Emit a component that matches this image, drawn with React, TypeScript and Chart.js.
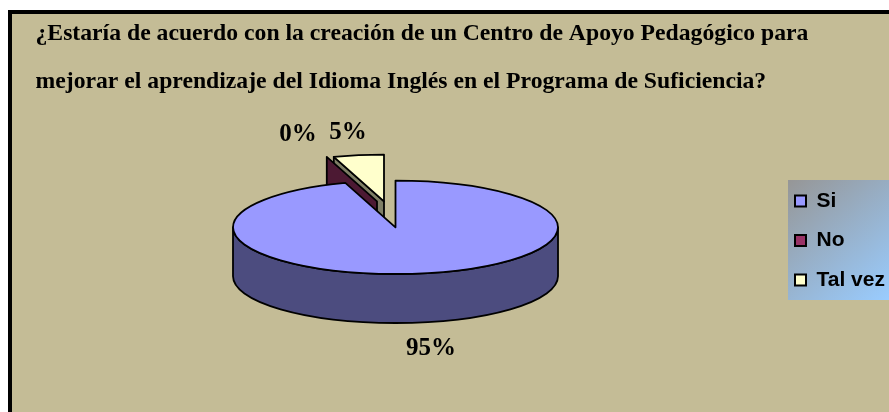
import React, { useEffect, useRef } from "react";
import { Chart, registerables } from "chart.js";

Chart.register(...registerables);

const categories = ["Si", "No", "Tal vez"];
const percentages = [95, 0, 5];
const titleLines = [
  "¿Estaría de acuerdo con la creación de un Centro de Apoyo Pedagógico para",
  "mejorar el aprendizaje del Idioma Inglés en el Programa de Suficiencia?",
];
const topColors = ["#9999ff", "#993366", "#ffffcc"];
const wallColors = ["#4c4c7f", "#4c1933", "#7f7f66"];

const CX = 395.5, CY = 227.3, RX = 162.5, RY = 46.7, DEPTH = 49;
const SQUASH = RY / RX;
// exploded displacement of each slice on the page
const shiftX = [0, -18.5, -11.5];
const shiftY = [0, -26, -26];
const labelX = [431, 298, 348];
const labelY = [349, 134.5, 133];

const piePlugin = {
  id: "pie3d",
  beforeDraw(chart: any) {
    const { ctx, width, height } = chart;
    ctx.save();
    ctx.fillStyle = "#ffffff";
    ctx.fillRect(0, 0, width, height);
    ctx.fillStyle = "#c4bc96";
    ctx.fillRect(8, 10, width - 8, height - 10);
    ctx.fillStyle = "#000000";
    ctx.fillRect(8, 10, 4, height - 10);
    ctx.fillRect(8, 10, width - 8, 4);
    const g = ctx.createLinearGradient(788, 180, 889, 300);
    g.addColorStop(0, "#969696");
    g.addColorStop(1, "#99ccff");
    ctx.fillStyle = g;
    ctx.fillRect(788, 180, 101, 120);
    ctx.restore();
  },
  afterLayout(chart: any) {
    const lg = chart.legend;
    const pad = lg.options.labels.padding;
    lg.left = 795 - pad;
    lg.right = 889;
    lg.top = 190.5 - pad;
    lg.bottom = 412;
  },
  beforeDatasetDraw(chart: any, args: any) {
    const { ctx } = chart;
    const arcs = args.meta.data;
    const walls = [2, 1, 0];
    ctx.save();
    ctx.lineWidth = 1.8;
    ctx.strokeStyle = "#000";
    ctx.lineJoin = "round";
    // side walls, back to front
    for (const i of walls) {
      const el = arcs[i];
      const cx = CX + shiftX[i], cy = CY + shiftY[i];
      ctx.fillStyle = wallColors[i];
      if (i === 0) {
        ctx.beginPath();
        ctx.ellipse(cx, cy, RX, RY, 0, 0, Math.PI);
        ctx.lineTo(cx - RX, cy + DEPTH);
        ctx.ellipse(cx, cy + DEPTH, RX, RY, 0, Math.PI, 0, true);
        ctx.closePath();
      } else {
        const a = el.startAngle;
        const px = cx + RX * Math.cos(a), py = cy + RY * Math.sin(a);
        ctx.beginPath();
        ctx.moveTo(cx, cy);
        ctx.lineTo(px, py);
        ctx.lineTo(px, py + DEPTH);
        ctx.lineTo(cx, cy + DEPTH);
        ctx.closePath();
      }
      ctx.fill();
      ctx.stroke();
    }
    // top faces through the arc elements
    [2, 1, 0].forEach((i) => {
      const el = arcs[i];
      ctx.save();
      ctx.translate(CX + shiftX[i], CY + shiftY[i]);
      ctx.scale(1, SQUASH);
      ctx.translate(-el.x, -el.y);
      el.draw(ctx);
      ctx.restore();
      if (el.circumference > 0) {
        const cx = CX + shiftX[i], cy = CY + shiftY[i];
        ctx.beginPath();
        ctx.moveTo(cx, cy);
        ctx.ellipse(cx, cy, RX, RY, 0, el.startAngle, el.endAngle);
        ctx.closePath();
        ctx.stroke();
      }
    });
    ctx.restore();
    return false;
  },
  afterDatasetsDraw(chart: any) {
    const { ctx } = chart;
    ctx.save();
    ctx.fillStyle = "#000";
    ctx.font = "bold 25px 'Liberation Serif'";
    ctx.textAlign = "center";
    ctx.textBaseline = "middle";
    percentages.forEach((v, i) => ctx.fillText(`${v}%`, labelX[i], labelY[i]));
    ctx.restore();
  },
};

export default function App() {
  const ref = useRef<HTMLCanvasElement>(null);
  useEffect(() => {
    const chart = new Chart(ref.current!, {
      type: "pie",
      data: {
        labels: categories,
        datasets: [
          {
            data: percentages,
            backgroundColor: topColors,
            borderWidth: 0,
          },
        ],
      },
      options: {
        animation: false,
        responsive: false,
        radius: RX,
        layout: { padding: { left: 35.5, top: 10 } },
        plugins: {
          tooltip: { enabled: false },
          title: {
            display: true,
            text: titleLines,
            align: "start",
            color: "#000",
            font: { family: "'Liberation Serif'", size: 23.7, weight: "bold", lineHeight: 2.025 },
            padding: 0,
          },
          legend: {
            position: "right",
            align: "start",
            labels: {
              color: "#000",
              boxWidth: 11,
              boxHeight: 11,
              padding: 18.5,
              font: { family: "'Liberation Sans'", size: 21, weight: "bold" },
              generateLabels: (c: any) =>
                categories.map((t, i) => ({
                  text: t,
                  fillStyle: topColors[i],
                  strokeStyle: "#000",
                  lineWidth: 2,
                  index: i,
                })),
            },
          },
        },
      } as any,
      plugins: [piePlugin as any],
    });
    return () => chart.destroy();
  }, []);
  return (
    <div style={{ position: "fixed", left: 0, top: 0, width: 889, height: 412 }}>
      <canvas ref={ref} width={889} height={412} style={{ display: "block" }} />
    </div>
  );
}
